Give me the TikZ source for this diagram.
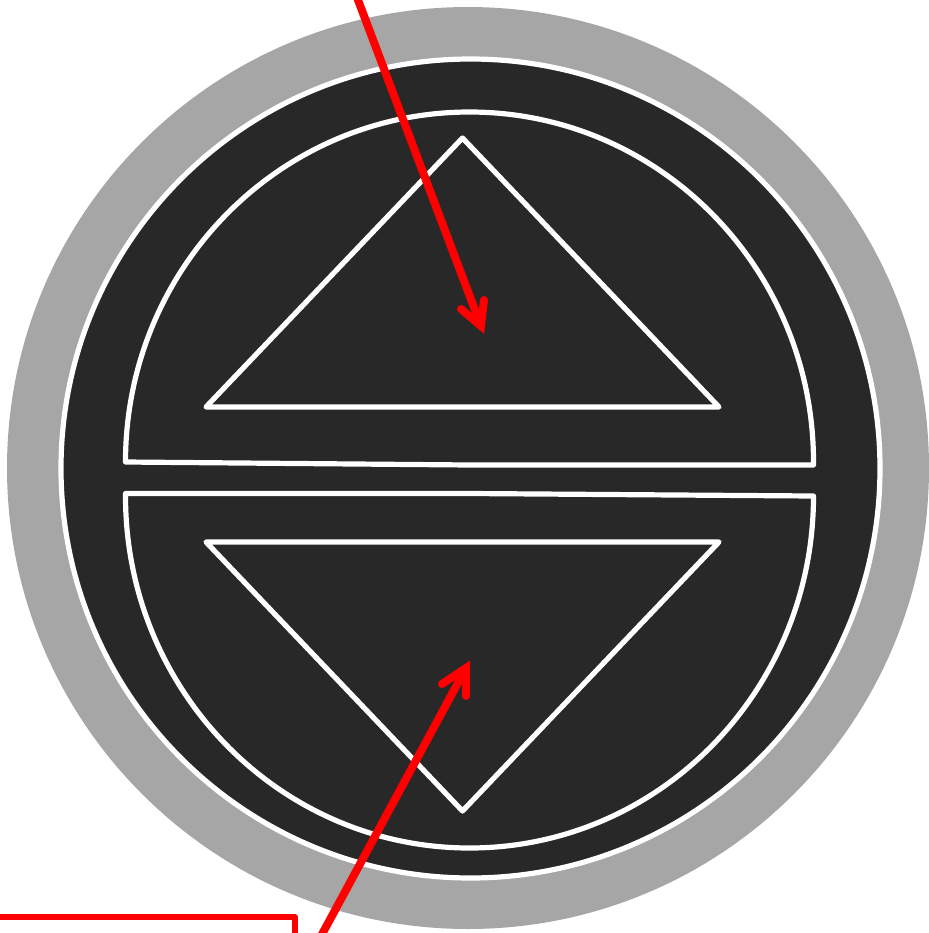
\documentclass[tikz,border=0pt]{standalone}
\definecolor{ringgray}{HTML}{A6A6A6}
\definecolor{darkfill}{HTML}{282828}
\tikzset{
  whiteline/.style={draw=white,line width=3.9pt,line join=round},
  redline/.style={draw=red,line width=6pt},
  barb/.style={draw=red,line width=6pt,line cap=round,line join=miter,miter limit=10},
  frameline/.style={draw=red,line width=3.9pt,line join=round}
}
\begin{document}
\begin{tikzpicture}[x=0.75pt,y=-0.75pt]
\useasboundingbox (0,0) rectangle (929,933);
\clip (0,0) rectangle (929,933);
% rings
\fill[ringgray] (468,468) ellipse [x radius=461,y radius=461];
\filldraw[whiteline,fill=darkfill] (470.5,468.5) ellipse [x radius=409.5,y radius=409.5];
% half discs
\draw[whiteline] (125.5,462) arc [start angle=180,end angle=360,x radius=344,y radius=350] -- (813.5,465) -- (470,465) -- cycle;
\draw[whiteline] (125.5,493.5) -- (470,493.5) -- (813.5,496) arc [start angle=0,end angle=180,x radius=344,y radius=352] -- cycle;
% triangles
\draw[whiteline] (462.5,138) -- (719,407) -- (206,407) -- cycle;
\draw[whiteline] (206,542) -- (719,542) -- (462.5,811) -- cycle;
% upper arrow
\coordinate (atail) at (355,-8);
\coordinate (atip) at (481,326);
\coordinate (abarbl) at (461,309);
\coordinate (abarbr) at (484,300);
\draw[redline] (atail) -- (atip);
\draw[barb] (abarbl) -- (atip) -- (abarbr);
% lower arrow
\coordinate (btail) at (320,938);
\coordinate (btip) at (466,668);
\coordinate (bbarbl) at (442,684);
\coordinate (bbarbr) at (466,696);
\draw[redline] (btail) -- (btip);
\draw[barb] (bbarbl) -- (btip) -- (bbarbr);
% frame fragment
\coordinate (fa) at (-5,917);
\coordinate (fb) at (295,917);
\coordinate (fc) at (295,940);
\draw[frameline] (fa) -- (fb) -- (fc);
\end{tikzpicture}
\end{document}
